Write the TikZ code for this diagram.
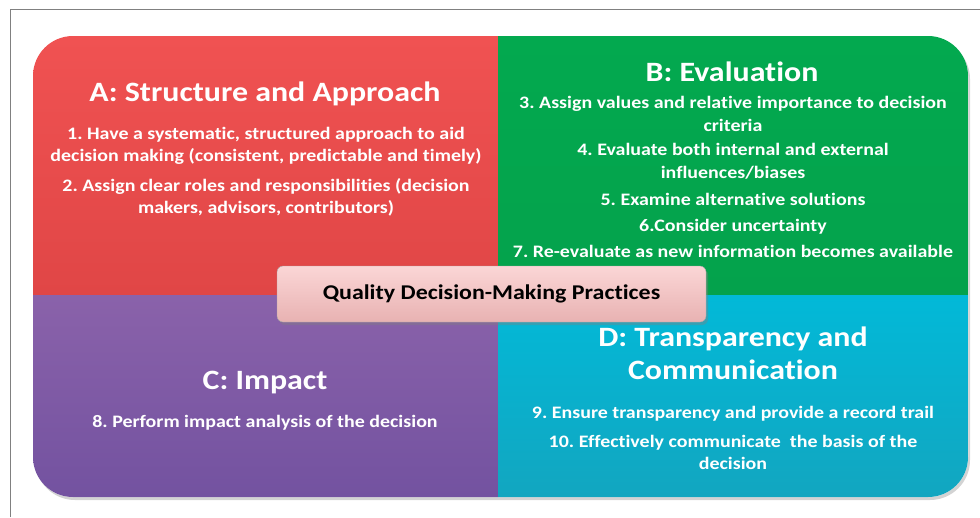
\documentclass[tikz,border=0pt]{standalone}
\usepackage{fontspec}
\setmainfont[Ligatures=NoCommon, FakeStretch=1.14]{Carlito}
\usepackage{tikz}
\usetikzlibrary{positioning,shadows}
\frenchspacing

\definecolor{quad_red_top}{HTML}{F05252}
\definecolor{quad_red_bot}{HTML}{E04646}
\definecolor{quad_green_top}{HTML}{03A94F}
\definecolor{quad_green_bot}{HTML}{04A24C}
\definecolor{quad_purple_top}{HTML}{8A62AA}
\definecolor{quad_purple_bot}{HTML}{7352A0}
\definecolor{quad_cyan_top}{HTML}{02B9D8}
\definecolor{quad_cyan_bot}{HTML}{12A6C0}
\definecolor{box_pink_top}{HTML}{FBD6D6}
\definecolor{box_pink_bot}{HTML}{E8B2B2}
\definecolor{frame_gray}{HTML}{808080}

\begin{document}
\begin{tikzpicture}[x=1pt, y=-1pt,
    title/.style={text=white, font=\fontsize{28}{33}\selectfont\bfseries, align=center, inner sep=0pt, anchor=base},
    body/.style={text=white, font=\fontsize{17.5}{22}\selectfont\bfseries, align=center, inner sep=0pt, anchor=base}]
                \useasboundingbox (0,0) rectangle (980,517);
                \draw[frame_gray, line width=1.2pt] (10.5,517) -- (10.5,9.5) -- (980,9.5);

                % quadrants (multi-line nodes sit on their last baseline)
                \fill[white, rounded corners=40pt, drop shadow={opacity=0.35, shadow xshift=2pt, shadow yshift=-3pt}] (33,36) rectangle (968,497);
                \begin{scope}
                    \clip[rounded corners=40pt] (33,36) rectangle (968,497);
                    \shade[top color=quad_red_top, bottom color=quad_red_bot] (33,36) rectangle (498,295);
                    \shade[top color=quad_green_top, bottom color=quad_green_bot] (498,36) rectangle (968,295);
                    \shade[top color=quad_purple_top, bottom color=quad_purple_bot] (33,295) rectangle (498,497);
                    \shade[top color=quad_cyan_top, bottom color=quad_cyan_bot] (498,295) rectangle (968,497);
                \end{scope}

                \node[title](title_structure) at (265,101) {A: Structure and Approach};
                \node[body](items_structure) at (266,213.5) {1. Have a systematic, structured approach to aid\\decision making (consistent, predictable and timely)\\[8pt]2. Assign clear roles and responsibilities (decision\\makers, advisors, contributors)};

                \node[title](title_evaluation) at (732,81) {B: Evaluation};
                \node[body](items_evaluation) at (733,257.5) {3. Assign values and relative importance to decision\\[1pt]criteria\\[2pt]4. Evaluate both internal and external\\[1pt]influences/biases\\[5pt]5. Examine alternative solutions\\[4pt]6.Consider uncertainty\\[4pt]7. Re-evaluate as new information becomes available};

                \node[title](title_impact) at (265,389) {C: Impact};
                \node[body](items_impact) at (265,427) {8. Perform impact analysis of the decision};

                \node[title](title_transparency) at (733,379) {D: Transparency and\\Communication};
                \node[body](items_transparency) at (733,469.5) {9. Ensure transparency and provide a record trail\\[7pt]10. Effectively communicate\ \ the basis of the\\decision};

                \node[draw=frame_gray!70, rounded corners=6pt, top color=box_pink_top, bottom color=box_pink_bot, minimum width=429pt, minimum height=56pt, drop shadow={opacity=0.4, shadow xshift=2pt, shadow yshift=-3pt}, font=\fontsize{21}{25}\selectfont\bfseries](practices) at (491.5,294) {Quality Decision-Making Practices};
            \end{tikzpicture}
\end{document}
